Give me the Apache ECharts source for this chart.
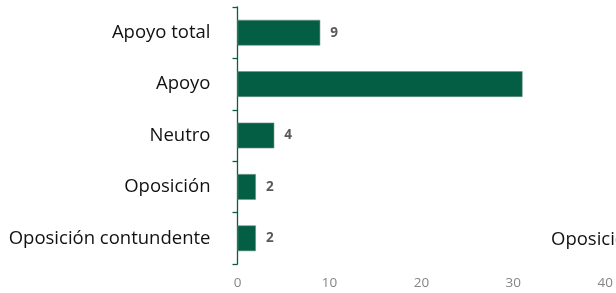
<!DOCTYPE html>
<html><head><meta charset="utf-8">
<script src="https://cdn.jsdelivr.net/npm/echarts@6/dist/echarts.min.js"></script>
<style>html,body{margin:0;padding:0;background:#fff}#c{width:616px;height:293px}</style>
</head><body><div id="c"></div>
<script>
const categories = ["Oposición contundente", "Oposición", "Neutro", "Apoyo", "Apoyo total"];
const values = [2, 2, 4, 31, 9];
const showLabel = [true, true, true, false, true];
const xTicks = [0, 10, 20, 30, 40];
const strayText = "Oposición contundente";

const chart = echarts.init(document.getElementById('c'));
chart.setOption({
  animation: false,
  grid: {left: 237.5, right: 5.5, top: 7, bottom: 29, containLabel: false},
  xAxis: {
    type: 'value', min: xTicks[0], max: xTicks[xTicks.length-1], interval: 10,
    axisLine: {show: false}, axisTick: {show: false}, splitLine: {show: false},
    axisLabel: {color: '#858585', fontSize: 13.5, fontFamily: 'Open Sans', margin: 12}
  },
  yAxis: {
    type: 'category', data: categories,
    axisLine: {show: true, lineStyle: {color: '#0b5e45', width: 1.3}},
    axisTick: {show: true, length: 5, lineStyle: {color: '#0b5e45', width: 1.3}},
    axisLabel: {color: '#111', fontSize: 18.5, fontFamily: 'Open Sans', margin: 27}
  },
  series: [{
    type: 'bar', barCategoryGap: '50%',
    data: values.map((v, i) => ({value: v, label: {show: showLabel[i]}})),
    itemStyle: {color: '#035e44', borderColor: '#6f8f84', borderWidth: 0.6},
    label: {position: 'right', distance: 10, color: '#595959', fontWeight: 'bold', fontSize: 13.5, fontFamily: 'Open Sans'}
  }],
  graphic: [{
    type: 'text', left: 551, top: 230,
    style: {text: strayText, fill: '#111', fontSize: 18.5, fontFamily: 'Open Sans'}
  }]
});
</script></body></html>
